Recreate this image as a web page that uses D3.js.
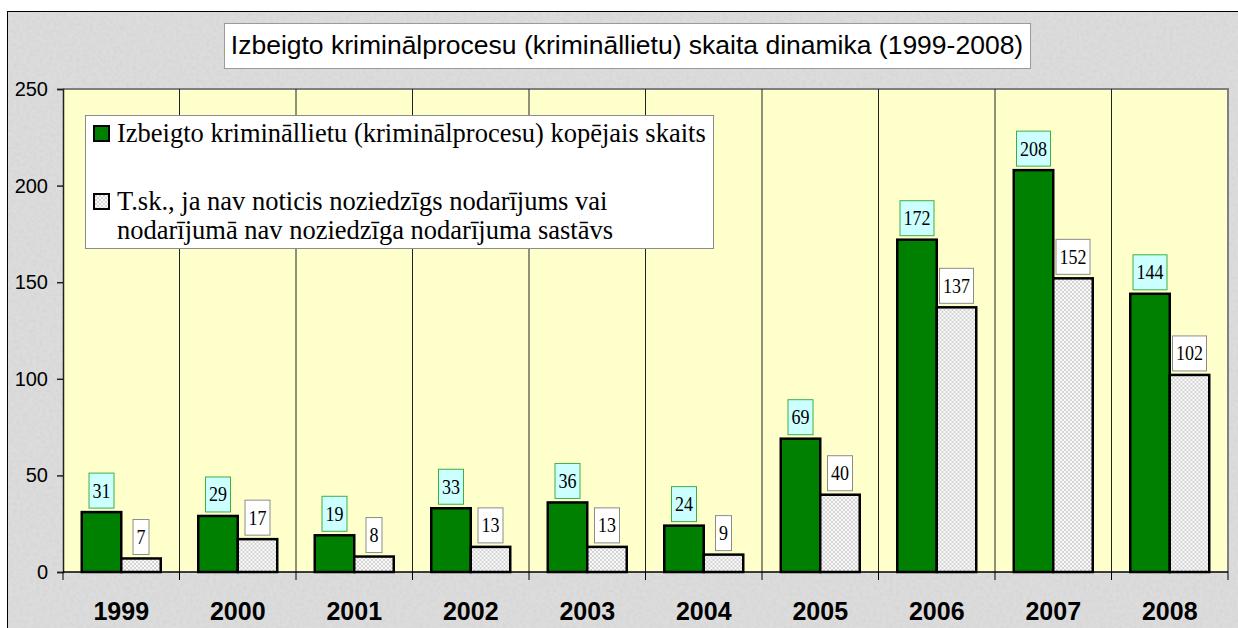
<!DOCTYPE html>
<html>
<head>
<meta charset="utf-8">
<script src="https://cdn.jsdelivr.net/npm/d3@7"></script>
<style>
  body { margin: 0; background: #fff; }
  svg { display: block; }
</style>
</head>
<body>
<div id="chart"></div>
<script>
// Chart data
const years = ["1999", "2000", "2001", "2002", "2003", "2004", "2005", "2006", "2007", "2008"];
const totalCases = [31, 29, 19, 33, 36, 24, 69, 172, 208, 144];
const noCrimeCases = [7, 17, 8, 13, 13, 9, 40, 137, 152, 102];
const yTicks = [0, 50, 100, 150, 200, 250];
const seriesNames = ["total", "noCrime"];
const titleText = "Izbeigto kriminālprocesu (krimināllietu) skaita dinamika (1999-2008)";
const legendLines = [
    ["Izbeigto krimināllietu (kriminālprocesu) kopējais skaits"],
    ["T.sk., ja nav noticis noziedzīgs nodarījums vai", "nodarījumā nav noziedzīga nodarījuma sastāvs"]
];

function drawChart() {
    const width = 1238, height = 628;
    const plot = { left: 63, right: 1228, top: 89, bottom: 572 };
    const serif = "'Liberation Serif', 'Times New Roman', serif";
    const sans = "'Liberation Sans', Arial, sans-serif";

    const svg = d3.select("#chart")
        .append("svg")
        .attr("width", width)
        .attr("height", height);

    const defs = svg.append("defs");

    // grainy gray background
    const grain = defs.append("filter").attr("id", "grain")
        .attr("x", 0).attr("y", 0).attr("width", "100%").attr("height", "100%");
    grain.append("feTurbulence")
        .attr("type", "fractalNoise")
        .attr("baseFrequency", 0.3)
        .attr("numOctaves", 1)
        .attr("seed", 3);
    grain.append("feColorMatrix")
        .attr("type", "matrix")
        .attr("values", "0 0 0 0 0.5  0 0 0 0 0.5  0 0 0 0 0.5  0.9 0 0 0 -0.35");

    // hatched fill of the second series
    const hatch = defs.append("pattern")
        .attr("id", "hatch")
        .attr("width", 4).attr("height", 4)
        .attr("patternUnits", "userSpaceOnUse");
    hatch.append("rect").attr("width", 4).attr("height", 4).attr("fill", "#fafafa");
    hatch.append("path")
        .attr("d", "M0,0 L4,4 M4,0 L0,4")
        .attr("stroke", "#cacaca")
        .attr("stroke-width", 0.8);

    // outer chart area
    svg.append("rect")
        .attr("x", 7.5).attr("y", 11.5)
        .attr("width", width + 20).attr("height", height + 20)
        .attr("fill", "#dcdcdc")
        .attr("stroke", "#000")
        .attr("stroke-width", 1);
    svg.append("rect")
        .attr("x", 8).attr("y", 12)
        .attr("width", width).attr("height", height)
        .attr("filter", "url(#grain)")
        .attr("opacity", 0.5);

    // scales
    const x = d3.scaleBand()
        .domain(years)
        .range([plot.left, plot.right])
        .paddingInner(0)
        .paddingOuter(0);

    const groupPad = x.bandwidth() * 0.161;
    const xInner = d3.scaleBand()
        .domain(seriesNames)
        .range([groupPad, x.bandwidth() - groupPad]);

    const y = d3.scaleLinear()
        .domain([0, 250])
        .range([plot.bottom, plot.top]);

    // plot area
    svg.append("rect")
        .attr("x", plot.left).attr("y", plot.top)
        .attr("width", plot.right - plot.left)
        .attr("height", plot.bottom - plot.top)
        .attr("fill", "#ffffcc");
    svg.append("path")
        .attr("d", `M${plot.left},${plot.top} H${plot.right} V${plot.bottom}`)
        .attr("fill", "none")
        .attr("stroke", "#808080")
        .attr("stroke-width", 2);

    // vertical gridlines between categories
    svg.append("g")
        .selectAll("line")
        .data(years.slice(1))
        .join("line")
        .attr("x1", d => x(d)).attr("x2", d => x(d))
        .attr("y1", plot.top).attr("y2", plot.bottom)
        .attr("stroke", "#222")
        .attr("stroke-width", 1);

    // y axis
    const yAxis = svg.append("g")
        .attr("transform", `translate(${plot.left},0)`)
        .call(d3.axisLeft(y).tickValues(yTicks).tickSize(6).tickPadding(9));
    yAxis.select(".domain").attr("stroke", "#222").attr("stroke-width", 1.5);
    yAxis.selectAll(".tick line").attr("stroke", "#222").attr("stroke-width", 1.5);
    yAxis.selectAll(".tick text")
        .attr("font-family", sans)
        .attr("font-size", 20)
        .attr("fill", "#000");

    // x axis: ticks on category boundaries, labels on centres
    const bounds = years.map(d => x(d)).concat([x(years[years.length - 1]) + x.bandwidth()]);
    const xAxis = svg.append("g");
    xAxis.append("line")
        .attr("x1", plot.left).attr("x2", plot.right)
        .attr("y1", plot.bottom).attr("y2", plot.bottom)
        .attr("stroke", "#000").attr("stroke-width", 1.5);
    xAxis.selectAll(".btick")
        .data(bounds)
        .join("line")
        .attr("class", "btick")
        .attr("x1", d => d).attr("x2", d => d)
        .attr("y1", plot.bottom).attr("y2", plot.bottom + 8)
        .attr("stroke", "#000").attr("stroke-width", 1);
    xAxis.selectAll(".ylabel")
        .data(years)
        .join("text")
        .attr("class", "ylabel")
        .attr("x", d => x(d) + x.bandwidth() / 2)
        .attr("y", 620)
        .attr("text-anchor", "middle")
        .attr("font-family", sans)
        .attr("font-weight", "bold")
        .attr("font-size", 25)
        .text(d => d);

    // bars
    const rows = years.map((yr, i) => ({
        year: yr,
        values: [
            { key: "total", value: totalCases[i] },
            { key: "noCrime", value: noCrimeCases[i] }
        ]
    }));

    const groups = svg.append("g")
        .selectAll("g")
        .data(rows)
        .join("g")
        .attr("transform", d => `translate(${x(d.year)},0)`);

    groups.selectAll("rect")
        .data(d => d.values)
        .join("rect")
        .attr("x", d => xInner(d.key))
        .attr("y", d => y(d.value))
        .attr("width", xInner.bandwidth())
        .attr("height", d => y(0) - y(d.value))
        .attr("fill", d => d.key === "total" ? "#008000" : "url(#hatch)")
        .attr("stroke", "#000")
        .attr("stroke-width", 2.5);

    // data labels in boxes
    const labels = groups.selectAll(".lbl")
        .data(d => d.values)
        .join("g")
        .attr("class", "lbl");

    labels.each(function(d) {
        const g = d3.select(this);
        const cx = xInner(d.key) + xInner.bandwidth() / 2;
        const boxH = 35;
        const bottom = y(d.value) - 4;
        const top = bottom - boxH;
        const t = g.append("text")
            .attr("font-family", serif)
            .attr("font-size", 18)
            .attr("text-anchor", "middle")
            .attr("transform", `translate(${cx},${top + boxH / 2 + 7}) scale(1,1.2)`)
            .text(d.value);
        const tw = t.node().getComputedTextLength();
        g.insert("rect", "text")
            .attr("x", cx - tw / 2 - 3.5)
            .attr("y", top)
            .attr("width", tw + 7)
            .attr("height", boxH)
            .attr("fill", d.key === "total" ? "#ccffff" : "#ffffff")
            .attr("stroke", d.key === "total" ? "#3cb043" : "#8c8c8c")
            .attr("stroke-width", 1);
    });

    // title
    svg.append("rect")
        .attr("x", 224.5).attr("y", 23.5)
        .attr("width", 806).attr("height", 45)
        .attr("fill", "#fff")
        .attr("stroke", "#9a9a9a");
    svg.append("text")
        .attr("x", 627)
        .attr("y", 54)
        .attr("text-anchor", "middle")
        .attr("font-family", sans)
        .attr("font-size", 26.5)
        .text(titleText);

    // legend
    const legend = svg.append("g");
    legend.append("rect")
        .attr("x", 85.5).attr("y", 115.5)
        .attr("width", 628).attr("height", 133)
        .attr("fill", "#fff")
        .attr("stroke", "#8c8c8c");

    const baselines = [[142], [210, 239]];
    legendLines.forEach((lines, i) => {
        legend.append("rect")
            .attr("x", 94).attr("y", baselines[i][0] - 16)
            .attr("width", 15).attr("height", 15)
            .attr("fill", i === 0 ? "#008000" : "url(#hatch)")
            .attr("stroke", "#000")
            .attr("stroke-width", 2);
        lines.forEach((line, j) => {
            legend.append("text")
                .attr("x", 117)
                .attr("y", baselines[i][j])
                .attr("font-family", serif)
                .attr("font-size", 26.5)
                .text(line);
        });
    });
}

document.addEventListener("DOMContentLoaded", drawChart);
</script>
</body>
</html>
